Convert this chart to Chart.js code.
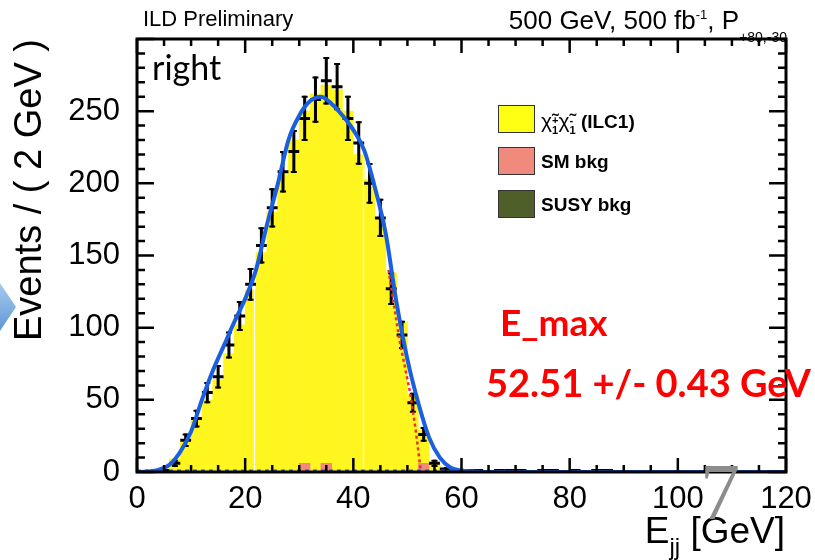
<!DOCTYPE html>
<html>
<head>
<meta charset="utf-8">
<script src="https://cdn.jsdelivr.net/npm/chart.js@4.4.1/dist/chart.umd.min.js"></script>
<style>
html, body { margin: 0; padding: 0; background: #fff; }
#wrap { position: relative; width: 815px; height: 560px; overflow: hidden; font-family: "Liberation Sans", Arial, sans-serif; }
#chart { position: absolute; left: 0; top: 0; }
.txt { position: absolute; white-space: nowrap; line-height: 1; color: #000; }
#hdrL { left: 143px; top: 8px; font-size: 22px; }
#hdrR { right: 28px; top: 7px; font-size: 26px; }
#hdrR sup { font-size: 13px; vertical-align: 10px; }
#hdrR sub { font-size: 14px; vertical-align: -13px; }
#right { left: 152px; top: 50px; font-family: Lato, sans-serif; font-size: 34px; }
.red { color: #ff0000; font-family: Lato, sans-serif; font-weight: bold; }
#emax { left: 500px; top: 303px; font-size: 37px; }
#eval { left: 486px; top: 363px; font-size: 38px; }
#xtitle { right: 30px; top: 512px; font-size: 37px; }
#xtitle sub { font-size: 24px; vertical-align: -12px; }
#slide { left: 700px; top: 452px; font-family: "Liberation Serif", serif; font-size: 80px; color: #8c8c8c; }
#arrow { position: absolute; left: 0; top: 283px; width: 16px; height: 48px;
  background: linear-gradient(#a9cbee, #5d97d6); clip-path: polygon(0 0, 100% 50%, 0 100%); }
.leg { position: absolute; left: 498px; font-weight: bold; font-size: 19px; }
.leg .box { position: absolute; left: 0; top: 0; width: 35px; height: 26px; border: 1px solid #333; }
.leg .lab { position: absolute; left: 43px; top: 5px; white-space: nowrap; line-height: 1; }
.chi { display: inline-block; position: relative; font-size: 21px; font-weight: normal; }
.ss { display: inline-block; vertical-align: -6px; font-size: 11px; line-height: 10px; text-align: left; font-weight: bold; }
</style>
</head>
<body>
<div id="wrap">
<canvas id="chart" width="815" height="560"></canvas>
<div id="arrow"></div>
<div class="txt" id="hdrL">ILD Preliminary</div>
<div class="txt" id="hdrR">500 GeV, 500 fb<sup>-1</sup>, P<sub>+80,-30</sub></div>
<div class="txt" id="right">right</div>
<div class="txt red" id="emax">E_max</div>
<div class="txt red" id="eval">52.51 +/- 0.43 GeV</div>
<div class="txt" id="xtitle">E<sub>jj</sub> [GeV]</div>
<div class="txt" id="slide">7</div>
<div id="legend"></div>
</div>
<script>
// bins of 2 GeV, centres
const binCenters = [1, 3, 5, 7, 9, 11, 13, 15, 17, 19, 21, 23, 25, 27, 29, 31, 33, 35, 37, 39,
  41, 43, 45, 47, 49, 51, 53, 55, 57, 59, 61, 63, 65, 67, 69, 71, 73, 75, 77, 79,
  81, 83, 85, 87, 89, 91, 93, 95, 97, 99, 101, 103, 105, 107, 109, 111, 113, 115, 117, 119];

// chargino signal (yellow)
const signalHist = [0, 1, 3, 9, 21, 36, 50, 64, 82, 102, 126, 152, 180, 206, 230, 250, 262, 268, 265, 250,
  220, 203, 176, 138, 104, 54, 29, 7, 2, 1, 0, 0, 0, 0, 0, 0, 0, 0, 0, 0,
  0, 0, 0, 0, 0, 0, 0, 0, 0, 0, 0, 0, 0, 0, 0, 0, 0, 0, 0, 0];

// SM background (salmon)
const smBkg = [0, 0, 0, 0, 0, 0, 0, 0, 0, 0, 0, 0, 0, 0, 0, 6, 0, 6, 0, 0,
  0, 0, 0, 0, 0, 0, 6, 0, 0, 0, 0, 0, 0, 0, 0, 0, 0, 0, 0, 0,
  0, 0, 0, 0, 0, 0, 0, 0, 0, 0, 0, 0, 0, 0, 0, 0, 0, 0, 0, 0];

// pseudo data points (black, sqrt(N) errors)
const dataVals = [0, 0, 1, 6, 22, 37, 55, 66, 88, 108, 130, 157, 183, 208, 222, 245, 258, 271, 267, 245,
  228, 200, 176, 127, 95, 48, 26, 6, 2, 1, 1, 1, 0, 1, 1, 1, 0, 1, 1, 0,
  1, 0, 1, 1, 0, 0, 0, 0, 0, 0, 0, 0, 0, 0, 0, 0, 0, 0, 0, 0];

// fit curve (blue)
const fitX = [0, 2, 4, 6, 8, 10, 12, 14, 16, 18, 20, 22, 24, 26, 28, 30, 32, 34, 36, 38,
  40, 42, 44, 46, 48, 50, 52, 54, 56, 58, 60, 62, 66, 70, 80, 100, 120];
const fitY = [0, 0.3, 1.5, 5, 14, 28, 50, 70, 87, 104, 120, 140, 171, 199, 230, 247, 257, 260, 255, 247,
  237, 223, 197, 165, 117, 78, 48, 24, 10, 3, 1, 0.4, 0, 0, 0, 0, 0];

// edge component (red dotted)
const edgeX = [46.5, 48.5, 50.5, 51.5, 52.5];
const edgeY = [140, 92, 55, 30, 0];

// flat component (blue dashed)
const flatX = [0, 60];
const flatY = [1, 1];

// thin white seams in the yellow histogram
const seamX = [21.6, 41.8];

const xTicks = [0, 20, 40, 60, 80, 100, 120];
const yTicks = [0, 50, 100, 150, 200, 250];

const legendLabels = [
  '<span class="chi">&chi;&#771;<span class="ss">+<br>1</span></span><span class="chi">&chi;&#771;<span class="ss">-<br>1</span></span> (ILC1)',
  'SM bkg',
  'SUSY bkg'
];
const legendColors = ['#ffff14', '#f08a7c', '#4f5f2a'];
const legendTops = [105, 147, 190];

const legend = document.getElementById('legend');
legendLabels.forEach((lab, i) => {
  const d = document.createElement('div');
  d.className = 'leg';
  d.style.top = legendTops[i] + 'px';
  d.innerHTML = `<div class="box" style="background:${legendColors[i]}"></div><div class="lab">${lab}</div>`;
  legend.appendChild(d);
});

const pts = (xs, ys) => xs.map((x, i) => ({ x: x, y: ys[i] }));

const rootStyle = {
  id: 'rootStyle',
  afterDatasetDraw(chart, args) {
    const ds = chart.data.datasets[args.index];
    const xs = chart.scales.x, ys = chart.scales.y;
    const ctx = chart.ctx;
    const area = chart.chartArea;
    ctx.save();
    ctx.beginPath();
    ctx.rect(area.left, area.top, area.right - area.left, area.bottom - area.top);
    ctx.clip();
    if (ds.label === 'signal') {
      ctx.strokeStyle = '#ffffff';
      ctx.lineWidth = 1.2;
      seamX.forEach(sx => {
        const bi = binCenters.findIndex(c => Math.abs(c - sx) <= 1);
        const px = Math.round(xs.getPixelForValue(sx)) + 0.5;
        ctx.beginPath();
        ctx.moveTo(px, ys.getPixelForValue(0));
        ctx.lineTo(px, ys.getPixelForValue(signalHist[bi]));
        ctx.stroke();
      });
    }
    if (ds.label === 'data') {
      ctx.strokeStyle = '#000';
      ctx.lineCap = 'butt';
      binCenters.forEach((c, i) => {
        const v = dataVals[i];
        if (v <= 0) return;
        const e = Math.sqrt(v);
        const px = xs.getPixelForValue(c);
        const py = ys.getPixelForValue(v);
        const top = ys.getPixelForValue(v + e);
        const bot = ys.getPixelForValue(v - e);
        ctx.lineWidth = 3;
        ctx.beginPath();
        ctx.moveTo(xs.getPixelForValue(c - 1), py);
        ctx.lineTo(xs.getPixelForValue(c + 1), py);
        ctx.moveTo(px, top);
        ctx.lineTo(px, bot);
        ctx.stroke();
        if (bot - top > 6) {
          ctx.lineWidth = 2;
          ctx.beginPath();
          ctx.moveTo(px - 3, top + 1);
          ctx.lineTo(px + 3, top + 1);
          ctx.moveTo(px - 3, bot - 1);
          ctx.lineTo(px + 3, bot - 1);
          ctx.stroke();
        }
      });
    }
    ctx.restore();
  },
  afterDraw(chart) {
    const { ctx, chartArea: a } = chart;
    const xs = chart.scales.x, ys = chart.scales.y;
    ctx.save();
    ctx.strokeStyle = '#000';
    ctx.lineWidth = 3;
    ctx.strokeRect(a.left, a.top, a.right - a.left, a.bottom - a.top);
    ctx.lineWidth = 2.5;
    ctx.beginPath();
    for (let v = xs.min; v <= xs.max; v += 5) {
      const len = v % 20 === 0 ? 14 : 7;
      const px = xs.getPixelForValue(v);
      ctx.moveTo(px, a.bottom); ctx.lineTo(px, a.bottom - len);
      ctx.moveTo(px, a.top); ctx.lineTo(px, a.top + len);
    }
    for (let v = ys.min; v <= ys.max; v += 10) {
      const len = v % 50 === 0 ? 17 : 8;
      const py = ys.getPixelForValue(v);
      ctx.moveTo(a.left, py); ctx.lineTo(a.left + len, py);
      ctx.moveTo(a.right, py); ctx.lineTo(a.right - len, py);
    }
    ctx.stroke();
    ctx.restore();
  }
};

new Chart(document.getElementById('chart'), {
  type: 'bar',
  data: {
    datasets: [
      { label: 'signal', data: pts(binCenters, signalHist), backgroundColor: '#fff51f', borderWidth: 0,
        barPercentage: 1, categoryPercentage: 1, grouped: false, order: 6 },
      { label: 'smbkg', data: pts(binCenters, smBkg), backgroundColor: '#f08a7c', borderWidth: 0,
        barPercentage: 1, categoryPercentage: 1, grouped: false, order: 5 },
      { type: 'line', label: 'data', data: pts(binCenters, dataVals), showLine: false, pointRadius: 0, order: 4 },
      { type: 'line', label: 'flat', data: pts(flatX, flatY), borderColor: '#1a5fe0', borderWidth: 2,
        borderDash: [4, 4], pointRadius: 0, order: 3 },
      { type: 'line', label: 'edge', data: pts(edgeX, edgeY), borderColor: '#e8302a', borderWidth: 2.5,
        borderDash: [3, 3], pointRadius: 0, order: 2 },
      { type: 'line', label: 'fit', data: pts(fitX, fitY), borderColor: '#1a5fe0', borderWidth: 4,
        cubicInterpolationMode: 'monotone', pointRadius: 0, order: 1 }
    ]
  },
  options: {
    responsive: false,
    animation: false,
    events: [],
    layout: { padding: { top: 39, right: 29, left: 0, bottom: 0 } },
    plugins: { legend: { display: false }, tooltip: { enabled: false } },
    scales: {
      x: {
        type: 'linear', min: 0, max: 120, offset: false,
        grid: { display: false, drawTicks: false, offset: false },
        border: { display: false },
        afterBuildTicks: s => { s.ticks = xTicks.map(v => ({ value: v })); },
        afterFit: s => { s.height = 88; s.paddingLeft = 0; s.paddingRight = 0; },
        ticks: { color: '#000', padding: 9, maxRotation: 0, autoSkip: false,
          font: { family: 'Liberation Sans', size: 31 } }
      },
      y: {
        min: 0, max: 300,
        grid: { display: false, drawTicks: false },
        border: { display: false },
        afterBuildTicks: s => { s.ticks = yTicks.map(v => ({ value: v })); },
        afterFit: s => { s.width = 137; s.paddingTop = 0; s.paddingBottom = 0; },
        ticks: { color: '#000', padding: 17, font: { family: 'Liberation Sans', size: 31 } },
        title: { display: true, text: 'Events / ( 2 GeV )', align: 'end', color: '#000',
          padding: { top: 8, bottom: 0 }, font: { family: 'Liberation Sans', size: 38 } }
      }
    }
  },
  plugins: [rootStyle]
});
</script>
</body>
</html>
